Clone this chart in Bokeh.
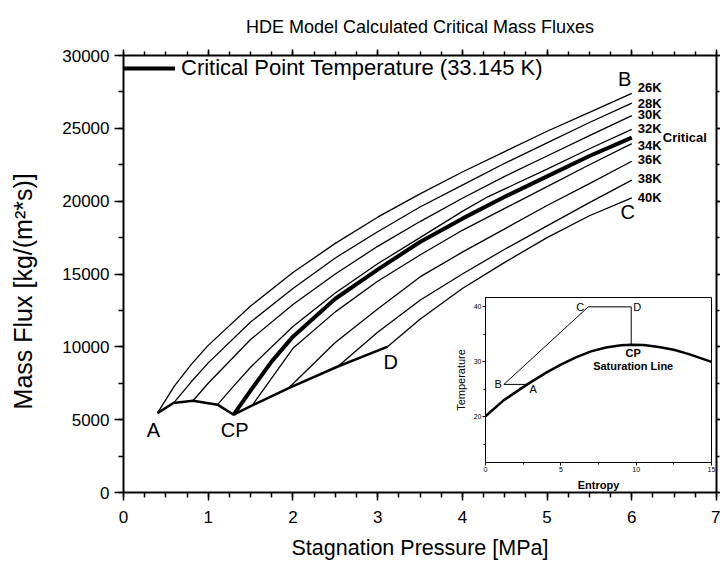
from bokeh.plotting import figure
from bokeh.models import (Range1d, LinearAxis, SingleIntervalTicker, Label,
                          Legend, LegendItem, CustomJSTickFormatter)
from bokeh.embed import file_html
from bokeh.resources import INLINE

FONT = "Liberation Sans"

# ---------------- data ----------------
# Isotherms: stagnation pressure [MPa] vs critical mass flux [kg/(m^2 s)]
p26 = [0.40, 0.60, 0.80, 1.00, 1.50, 2.00, 2.50, 3.00, 3.50, 4.00, 4.50, 5.00, 5.50, 6.00]
f26 = [5450, 7300, 8800, 10100, 12800, 15100, 17100, 18900, 20500, 22000, 23400, 24800, 26100, 27400]

p28 = [0.59, 0.80, 1.00, 1.50, 2.00, 2.50, 3.00, 3.50, 4.00, 4.50, 5.00, 5.50, 6.00]
f28 = [6140, 7600, 8900, 11700, 14000, 16100, 17900, 19600, 21100, 22600, 24000, 25400, 26730]

p30 = [0.82, 1.00, 1.50, 2.00, 2.50, 3.00, 3.50, 4.00, 4.50, 5.00, 5.50, 6.00]
f30 = [6300, 7500, 10500, 12900, 15000, 16900, 18600, 20200, 21700, 23100, 24500, 25870]

p32 = [1.11, 1.30, 1.50, 2.00, 2.50, 3.00, 3.50, 4.00, 4.30, 5.00, 5.50, 6.00]
f32 = [6030, 7300, 8600, 11400, 13700, 15700, 17500, 19300, 20300, 22200, 23600, 24930]

pcr = [1.30, 1.50, 1.75, 2.00, 2.50, 3.00, 3.50, 4.00, 4.50, 5.00, 5.50, 6.00]
fcr = [5340, 7000, 9000, 10700, 13300, 15300, 17200, 18800, 20300, 21700, 23100, 24360]

p34 = [1.52, 2.00, 2.50, 3.00, 3.50, 4.00, 4.50, 5.00, 5.50, 6.00]
f34 = [5980, 9900, 12400, 14500, 16300, 18000, 19500, 21000, 22500, 23950]

p36 = [1.95, 2.50, 3.00, 3.50, 4.00, 4.50, 5.00, 5.50, 6.00]
f36 = [7170, 10300, 12600, 14800, 16500, 18100, 19700, 21200, 22740]

p38 = [2.53, 3.00, 3.50, 4.00, 4.50, 5.00, 5.50, 6.00]
f38 = [8650, 11000, 13200, 15000, 16700, 18300, 19900, 21440]

p40 = [3.12, 3.50, 4.00, 4.50, 5.00, 5.50, 6.00]
f40 = [10020, 11900, 14000, 15800, 17500, 19000, 20230]

iso_p = [p26, p28, p30, p32, p34, p36, p38, p40]
iso_f = [f26, f28, f30, f32, f34, f36, f38, f40]
iso_names = ["26K", "28K", "30K", "32K", "34K", "36K", "38K", "40K"]

# boundary A -> CP -> D (inlet states on saturation line / 40 K line)
pbound = [0.40, 0.59, 0.82, 1.11, 1.30, 1.52, 1.95, 2.53, 3.12]
fbound = [5450, 6140, 6300, 6030, 5340, 5980, 7170, 8650, 10020]

# inset: T-s diagram
s_sat = [0.0, 1.2, 2.77, 4.0, 5.0, 6.0, 7.0, 8.0, 9.0, 9.67, 10.5, 11.5, 12.5, 13.5, 15.0]
t_sat = [20.1, 23.0, 25.9, 28.0, 29.5, 30.8, 31.9, 32.6, 33.0, 33.1, 33.05, 32.7, 32.2, 31.4, 30.0]
s_path = [2.77, 1.22, 6.82, 9.67, 9.67]     # A -> B -> C -> D -> CP
t_path = [25.9, 25.9, 40.0, 40.0, 33.1]

# ---------------- main figure ----------------
p = figure(width=720, height=562, x_range=Range1d(0, 7), y_range=Range1d(0, 30000),
           output_backend="svg", toolbar_location=None,
           min_border_left=123, min_border_right=4, min_border_top=55, min_border_bottom=69)
p.grid.visible = False
p.outline_line_color = None
p.background_fill_color = None
p.border_fill_color = None

p.title.text = "HDE Model Calculated Critical Mass Fluxes"
p.title.align = "center"
p.title.text_font = FONT
p.title.text_font_style = "normal"
p.title.text_font_size = "18px"
p.title.text_color = "black"
p.title.standoff = 26

p.xaxis.ticker = SingleIntervalTicker(interval=1, num_minor_ticks=4)
p.yaxis.ticker = SingleIntervalTicker(interval=5000, num_minor_ticks=2)

blank = CustomJSTickFormatter(code="return ''")


def style_axis(ax, labels=True, tick_out=8, minor_out=4):
    ax.axis_line_width = 2
    ax.axis_line_color = "black"
    ax.major_tick_line_width = 1.5
    ax.minor_tick_line_width = 1.5
    ax.major_tick_line_color = "black"
    ax.minor_tick_line_color = "black"
    ax.major_tick_in = 0
    ax.minor_tick_in = 0
    ax.major_tick_out = tick_out
    ax.minor_tick_out = minor_out
    ax.major_label_text_font = FONT
    ax.major_label_text_color = "black"
    ax.axis_label_text_font = FONT
    ax.axis_label_text_font_style = "normal"
    ax.axis_label_text_color = "black"
    if not labels:
        ax.formatter = blank
        ax.major_label_standoff = 0


xa = p.xaxis[0]
ya = p.yaxis[0]
style_axis(xa, tick_out=8, minor_out=5)
style_axis(ya, tick_out=9, minor_out=5)
xa.axis_label = "Stagnation Pressure [MPa]"
xa.axis_label_text_font_size = "21.5px"
xa.major_label_text_font_size = "17px"
xa.major_label_standoff = 10
xa.axis_label_standoff = 10
ya.axis_label = "Mass Flux [kg/(m²*s)]\u00a0\u00a0\u00a0\u00a0\u00a0"
ya.axis_label_text_font_size = "25px"
ya.major_label_text_font_size = "17px"
ya.major_label_standoff = 5
ya.axis_label_standoff = 22

top = LinearAxis(ticker=SingleIntervalTicker(interval=1, num_minor_ticks=4))
style_axis(top, labels=False, tick_out=6, minor_out=4)
p.add_layout(top, "above")
right = LinearAxis(ticker=SingleIntervalTicker(interval=5000, num_minor_ticks=2))
style_axis(right, labels=False, tick_out=4, minor_out=3)
p.add_layout(right, "right")

# isotherms
for px_, fy_ in zip(iso_p, iso_f):
    p.line(px_, fy_, line_color="black", line_width=1.3)
crit = p.line(pcr, fcr, line_color="black", line_width=4)
p.line(pbound, fbound, line_color="black", line_width=2.5)

legend = Legend(items=[LegendItem(label="Critical Point Temperature (33.145 K)", renderers=[crit])],
                location="top_left", border_line_color=None, background_fill_alpha=0,
                margin=0, padding=9, glyph_width=52, label_standoff=6,
                label_text_font=FONT, label_text_font_size="22px", label_text_color="black")
p.add_layout(legend)

# end-of-curve temperature labels
y_shift = {"26K": 6, "28K": 0, "30K": 1, "32K": 1, "34K": -2, "36K": 2, "38K": 2, "40K": 0}
for name, px_, fy_ in zip(iso_names, iso_p, iso_f):
    p.add_layout(Label(x=px_[-1], y=fy_[-1], text=name, x_offset=6, y_offset=y_shift[name],
                       text_baseline="middle", text_font=FONT, text_font_style="bold",
                       text_font_size="13px", text_color="black"))
p.add_layout(Label(x=pcr[-1], y=fcr[-1], text="Critical", x_offset=31, y_offset=0,
                   text_baseline="middle", text_font=FONT, text_font_style="bold",
                   text_font_size="13px", text_color="black"))

big = dict(text_font=FONT, text_font_size="20px", text_color="black",
           text_align="center", text_baseline="middle")
p.add_layout(Label(x=pbound[0], y=fbound[0], text="A", x_offset=-4, y_offset=-17, **big))
p.add_layout(Label(x=pbound[4], y=fbound[4], text="CP", x_offset=1, y_offset=-15, **big))
p.add_layout(Label(x=pbound[-1], y=fbound[-1], text="D", x_offset=3, y_offset=-15, **big))
p.add_layout(Label(x=p26[-1], y=f26[-1], text="B", x_offset=-7, y_offset=14, **big))
p.add_layout(Label(x=p40[-1], y=f40[-1], text="C", x_offset=-4, y_offset=-14, **big))

# ---------------- inset figure (separate root, placed over the main plot) ----------------
ins = figure(width=271, height=201, x_range=Range1d(0, 15), y_range=Range1d(11.7, 41.7),
             output_backend="svg", toolbar_location=None,
             min_border_left=40, min_border_right=5, min_border_top=5, min_border_bottom=30,
             styles={"position": "absolute", "left": "445px", "top": "292px"})
ins.grid.visible = False
ins.background_fill_alpha = 0
ins.border_fill_alpha = 0
ins.outline_line_color = "black"
ins.outline_line_width = 1
ins.xaxis.ticker = SingleIntervalTicker(interval=5, num_minor_ticks=2)
ins.yaxis.ticker = SingleIntervalTicker(interval=10, num_minor_ticks=2)
for ax in (ins.xaxis[0], ins.yaxis[0]):
    ax.axis_line_width = 1
    ax.major_tick_in = 0
    ax.minor_tick_in = 0
    ax.major_tick_out = 3
    ax.minor_tick_out = 2
    ax.major_label_text_font = FONT
    ax.major_label_text_font_size = "7px"
    ax.major_label_text_color = "black"
    ax.major_label_standoff = 1
    ax.axis_label_text_font = FONT
    ax.axis_label_text_color = "black"
ins.xaxis.axis_label = "Entropy"
ins.xaxis.axis_label_text_font_style = "bold"
ins.xaxis.axis_label_text_font_size = "11px"
ins.xaxis.axis_label_standoff = 4
ins.yaxis.axis_label = "Temperature"
ins.yaxis.axis_label_text_font_style = "normal"
ins.yaxis.axis_label_text_font_size = "11px"
ins.yaxis.axis_label_standoff = 4

ins.line(s_sat, t_sat, line_color="black", line_width=2.5)
ins.line(s_path, t_path, line_color="black", line_width=1)

small = dict(text_font=FONT, text_font_size="11px", text_color="black", text_baseline="middle")
ins.add_layout(Label(x=s_path[1], y=t_path[1], text="B", x_offset=-2, y_offset=0, text_align="right", **small))
ins.add_layout(Label(x=s_path[0], y=t_path[0], text="A", x_offset=6, y_offset=-5, text_align="center", **small))
ins.add_layout(Label(x=s_path[2], y=t_path[2], text="C", x_offset=-4, y_offset=0, text_align="right", **small))
ins.add_layout(Label(x=s_path[3], y=t_path[3], text="D", x_offset=2, y_offset=0, text_align="left", **small))
bsmall = dict(text_font=FONT, text_font_size="11px", text_color="black", text_baseline="middle",
              text_font_style="bold", text_align="center")
ins.add_layout(Label(x=s_path[4], y=t_path[4], text="CP", x_offset=2, y_offset=-8, **bsmall))
ins.add_layout(Label(x=s_path[4], y=t_path[4], text="Saturation Line", x_offset=2, y_offset=-21, **bsmall))

open("out.html", "w").write(file_html([p, ins], INLINE))
